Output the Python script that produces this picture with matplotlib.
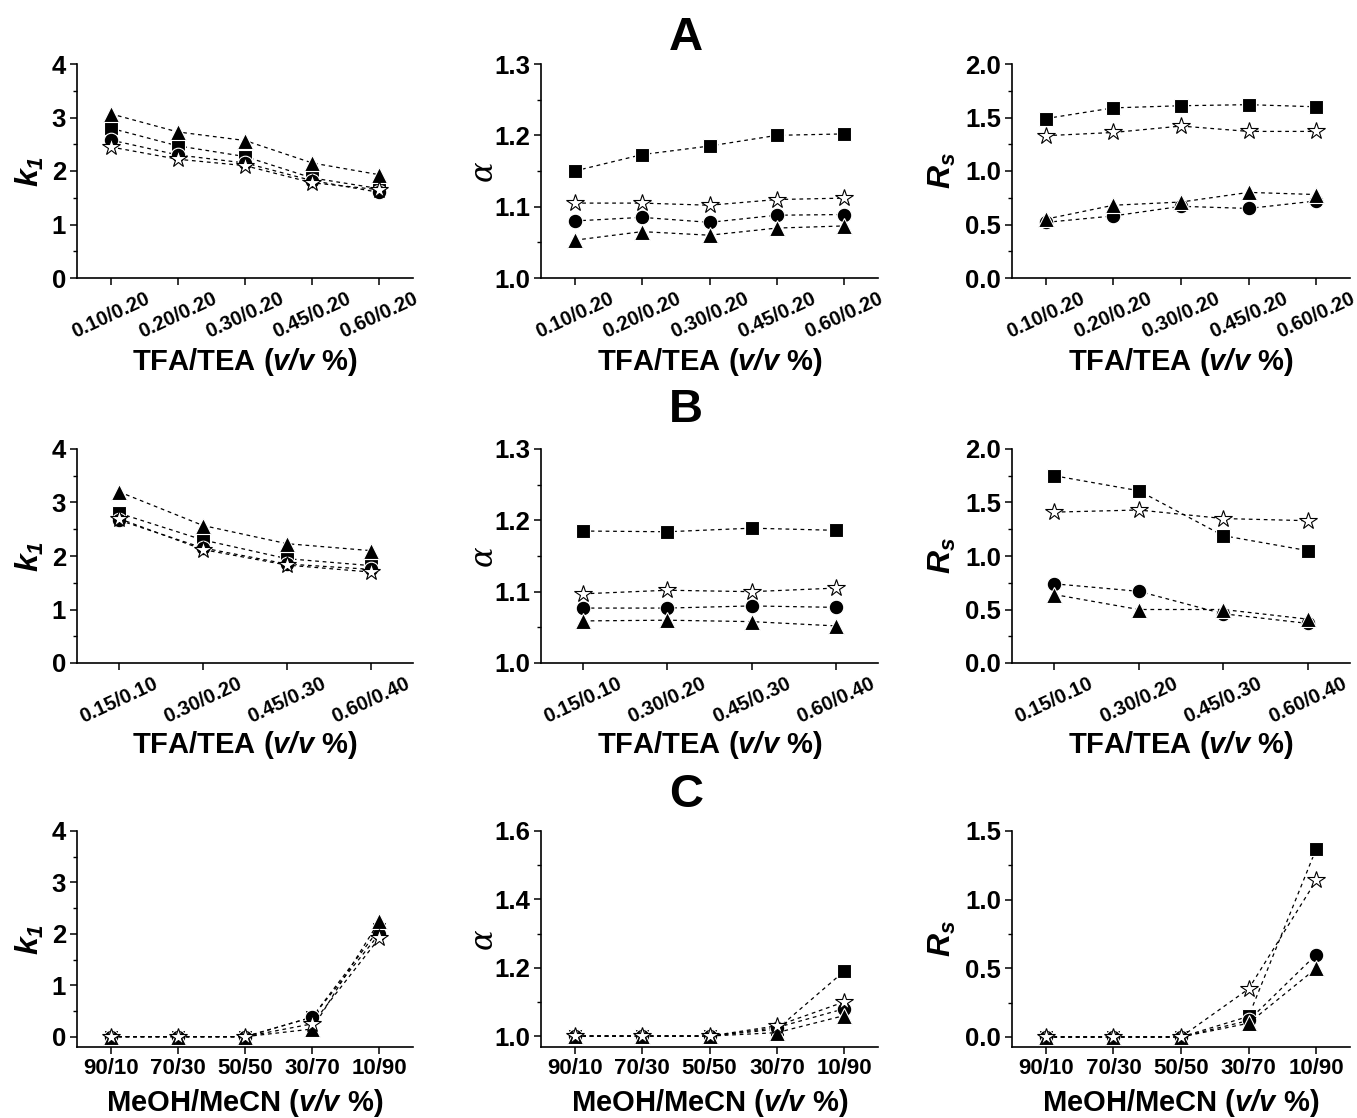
import matplotlib
matplotlib.use('Agg')
import matplotlib.pyplot as plt
from matplotlib.ticker import MultipleLocator

plt.rcParams['font.family'] = ['Liberation Sans', 'DejaVu Sans']
plt.rcParams['font.weight'] = 'bold'
plt.rcParams['mathtext.fontset'] = 'custom'
plt.rcParams['mathtext.it'] = 'Liberation Sans:italic:bold'
plt.rcParams['mathtext.rm'] = 'Liberation Sans:italic:bold'
plt.rcParams['mathtext.bf'] = 'Liberation Sans:bold'

# categories
cats_a = ['0.10/0.20', '0.20/0.20', '0.30/0.20', '0.45/0.20', '0.60/0.20']
cats_b = ['0.15/0.10', '0.30/0.20', '0.45/0.30', '0.60/0.40']
cats_c = ['90/10', '70/30', '50/50', '30/70', '10/90']

# row A
a_k1_square = [2.80, 2.47, 2.27, 1.87, 1.67]
a_k1_circle = [2.58, 2.30, 2.15, 1.82, 1.60]
a_k1_triangle = [3.07, 2.73, 2.57, 2.15, 1.93]
a_k1_star = [2.45, 2.22, 2.10, 1.78, 1.65]

a_alpha_square = [1.150, 1.173, 1.185, 1.200, 1.202]
a_alpha_circle = [1.080, 1.085, 1.078, 1.088, 1.089]
a_alpha_triangle = [1.053, 1.065, 1.060, 1.070, 1.073]
a_alpha_star = [1.105, 1.105, 1.102, 1.110, 1.112]

a_rs_square = [1.49, 1.59, 1.61, 1.62, 1.60]
a_rs_circle = [0.52, 0.58, 0.67, 0.65, 0.72]
a_rs_triangle = [0.55, 0.68, 0.71, 0.80, 0.78]
a_rs_star = [1.33, 1.36, 1.42, 1.37, 1.37]

# row B
b_k1_square = [2.80, 2.30, 1.95, 1.82]
b_k1_circle = [2.67, 2.15, 1.85, 1.75]
b_k1_triangle = [3.20, 2.57, 2.23, 2.10]
b_k1_star = [2.70, 2.12, 1.83, 1.70]

b_alpha_square = [1.185, 1.184, 1.189, 1.186]
b_alpha_circle = [1.077, 1.077, 1.080, 1.078]
b_alpha_triangle = [1.059, 1.060, 1.058, 1.052]
b_alpha_star = [1.097, 1.102, 1.100, 1.105]

b_rs_square = [1.75, 1.61, 1.19, 1.05]
b_rs_circle = [0.74, 0.67, 0.46, 0.37]
b_rs_triangle = [0.64, 0.50, 0.50, 0.41]
b_rs_star = [1.41, 1.43, 1.35, 1.33]

# row C
c_k1_square = [0, 0, 0, 0.38, 2.10]
c_k1_circle = [0, 0, 0, 0.38, 2.00]
c_k1_triangle = [0, 0, 0, 0.15, 2.25]
c_k1_star = [0, 0, 0, 0.25, 1.92]

c_alpha_square = [1.0, 1.0, 1.0, 1.020, 1.19]
c_alpha_circle = [1.0, 1.0, 1.0, 1.025, 1.08]
c_alpha_triangle = [1.0, 1.0, 1.0, 1.010, 1.06]
c_alpha_star = [1.0, 1.0, 1.0, 1.030, 1.10]

c_rs_square = [0, 0, 0, 0.15, 1.37]
c_rs_circle = [0, 0, 0, 0.12, 0.60]
c_rs_triangle = [0, 0, 0, 0.10, 0.50]
c_rs_star = [0, 0, 0, 0.35, 1.14]

W, H = 1357, 1118
fig = plt.figure(figsize=(W / 100, H / 100), dpi=100)

col_x = [(77, 413), (541, 878), (1012, 1350)]
row_y = [(64, 278), (449, 663), (831, 1047)]
ylabel_off = [47, 58, 70]
xlabel_off = [84, 82, 56]

k1_label = r'$k_1$'
rs_label = r'$R_s$'
tfa_label = r'TFA/TEA ($\mathit{v/v}$ %)'
meoh_label = r'MeOH/MeCN ($\mathit{v/v}$ %)'

panels = [
    [(cats_a, [a_k1_square, a_k1_circle, a_k1_triangle, a_k1_star], k1_label, (0, 4), 1, 0.5, tfa_label),
     (cats_a, [a_alpha_square, a_alpha_circle, a_alpha_triangle, a_alpha_star], 'α', (1.0, 1.3), 0.1, 0.05, tfa_label),
     (cats_a, [a_rs_square, a_rs_circle, a_rs_triangle, a_rs_star], rs_label, (0, 2), 0.5, 0.25, tfa_label)],
    [(cats_b, [b_k1_square, b_k1_circle, b_k1_triangle, b_k1_star], k1_label, (0, 4), 1, 0.5, tfa_label),
     (cats_b, [b_alpha_square, b_alpha_circle, b_alpha_triangle, b_alpha_star], 'α', (1.0, 1.3), 0.1, 0.05, tfa_label),
     (cats_b, [b_rs_square, b_rs_circle, b_rs_triangle, b_rs_star], rs_label, (0, 2), 0.5, 0.25, tfa_label)],
    [(cats_c, [c_k1_square, c_k1_circle, c_k1_triangle, c_k1_star], k1_label, (-0.2, 4), 1, 0.5, meoh_label),
     (cats_c, [c_alpha_square, c_alpha_circle, c_alpha_triangle, c_alpha_star], 'α', (0.968, 1.6), 0.2, 0.1, meoh_label),
     (cats_c, [c_rs_square, c_rs_circle, c_rs_triangle, c_rs_star], rs_label, (-0.073, 1.5), 0.5, 0.25, meoh_label)],
]

markers = [
    dict(marker='s', ms=10, mfc='black', mec='white', mew=0.8),
    dict(marker='o', ms=10.5, mfc='black', mec='white', mew=0.8),
    dict(marker='^', ms=11.5, mfc='black', mec='white', mew=0.8),
    dict(marker='*', ms=13, mfc='white', mec='black', mew=0.8),
]

for r in range(3):
    y0, y1 = row_y[r]
    for c in range(3):
        x0, x1 = col_x[c]
        cats, series, ylab, ylim, major, minor, xlab = panels[r][c]
        ax = fig.add_axes([x0 / W, 1 - y1 / H, (x1 - x0) / W, (y1 - y0) / H])
        xs = list(range(len(cats)))
        for vals, mk in zip(series, markers):
            ax.plot(xs, vals, color='black', lw=0.9, linestyle=(0, (3, 3)), **mk)
        ax.set_xlim(-0.5, len(cats) - 0.5)
        ax.set_ylim(*ylim)
        ax.yaxis.set_major_locator(MultipleLocator(major))
        ax.yaxis.set_minor_locator(MultipleLocator(minor))
        ax.set_xticks(xs)
        if r < 2:
            ax.set_xticklabels(cats, rotation=25, ha='center', fontsize=14.5, fontweight='bold')
        else:
            ax.set_xticklabels(cats, fontsize=16, fontweight='bold')
        if c == 0:
            ax.yaxis.set_major_formatter(matplotlib.ticker.FormatStrFormatter('%d'))
        else:
            ax.yaxis.set_major_formatter(matplotlib.ticker.FormatStrFormatter('%.1f'))
        for lbl in ax.get_yticklabels():
            lbl.set_fontsize(18.5)
            lbl.set_fontweight('bold')
        ax.spines['top'].set_visible(False)
        ax.spines['right'].set_visible(False)
        ax.spines['left'].set_linewidth(1.2)
        ax.spines['bottom'].set_linewidth(1.2)
        ax.tick_params(which='major', direction='out', length=5, width=1.1, pad=3)
        ax.tick_params(which='minor', direction='out', length=3, width=1)
        ax.tick_params(axis='x', which='minor', bottom=False)

        if ylab == 'α':
            ax.set_ylabel(ylab, fontsize=22, fontstyle='italic', fontweight='normal',
                          family='DejaVu Serif')
        else:
            ax.set_ylabel(ylab, fontsize=23)
        ax.yaxis.set_label_coords(-ylabel_off[c] / (x1 - x0), 0.5)
        ax.yaxis.label.set_va('center')
        ax.set_xlabel(xlab, fontsize=21, fontweight='bold')
        ax.xaxis.set_label_coords(0.5, -xlabel_off[r] / (y1 - y0))
        ax.xaxis.label.set_va('center')

for letter, yc in zip(['A', 'B', 'C'], [38, 410, 795]):
    fig.text(686 / W, 1 - yc / H, letter, fontsize=34, fontweight='bold', ha='center', va='center')

fig.savefig('out.png', dpi=100)
